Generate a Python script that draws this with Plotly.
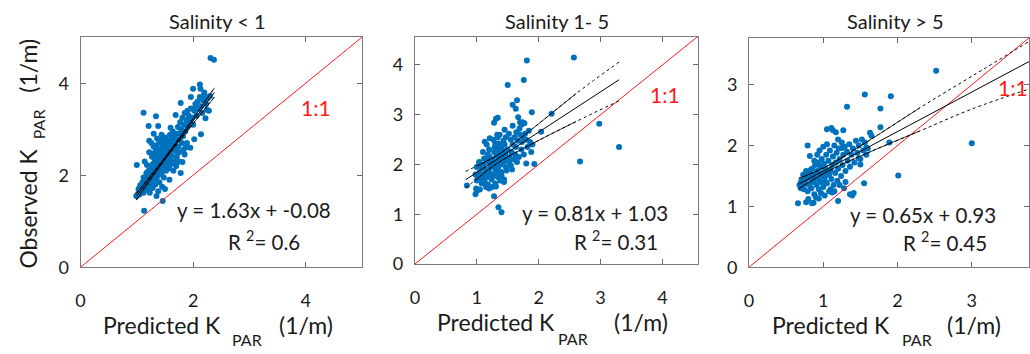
import plotly.graph_objects as go

W, H = 1030, 354
FONT = "Lato"
BLUE = "#0072BD"
TXT = "#1a1a1a"

# ---------------- data ----------------
titles = ["Salinity < 1", "Salinity 1- 5", "Salinity > 5"]

p1_points = [
    (2.31, 4.55), (2.37, 4.51), (2.12, 3.97), (2.13, 3.88), (1.12, 3.36), (1.34, 3.28), (1.38, 3.07),
    (1.21, 3.07), (1.78, 3.57), (1.96, 3.70), (1.69, 3.31), (2.22, 3.24), (2.22, 3.70), (2.19, 3.74),
    (2.14, 2.89), (2.02, 2.78), (1.87, 2.61), (1.00, 2.22), (1.13, 1.23), (1.46, 1.44), (0.99, 1.55),
    (1.22, 2.75), (1.30, 2.90), (1.81, 2.29), (1.60, 3.03), (2.05, 3.49), (2.25, 3.42), (1.90, 3.40),
    (2.00, 3.88),
    (1.00, 1.55), (1.02, 1.60), (1.05, 1.58), (1.08, 1.65), (1.03, 1.70), (1.10, 1.72), (1.06, 1.78),
    (1.12, 1.62), (1.15, 1.70), (1.13, 1.80), (1.10, 1.85), (1.18, 1.75), (1.16, 1.88), (1.20, 1.68),
    (1.22, 1.80), (1.19, 1.95), (1.25, 1.90), (1.23, 1.62), (1.28, 1.72), (1.27, 1.85), (1.30, 1.95),
    (1.24, 2.02), (1.21, 2.10), (1.18, 2.22), (1.14, 2.30), (1.26, 2.15), (1.31, 2.05), (1.33, 1.80),
    (1.35, 1.92), (1.36, 2.10), (1.29, 2.25), (1.32, 2.35), (1.27, 2.40), (1.22, 2.50), (1.38, 2.00),
    (1.40, 1.85), (1.42, 2.15), (1.39, 2.28), (1.37, 2.45), (1.34, 2.55), (1.30, 2.62), (1.26, 2.70),
    (1.44, 2.05), (1.46, 2.30), (1.43, 2.40), (1.41, 2.55), (1.45, 2.62), (1.40, 2.72), (1.36, 2.80),
    (1.48, 2.20), (1.50, 2.40), (1.47, 2.50), (1.52, 2.32), (1.49, 2.68), (1.46, 2.78), (1.44, 2.88),
    (1.53, 2.55), (1.55, 2.45), (1.54, 2.70), (1.51, 2.82), (1.57, 2.38), (1.58, 2.60), (1.56, 2.75),
    (1.60, 2.50), (1.59, 2.88), (1.62, 2.42), (1.61, 2.68), (1.63, 2.80), (1.65, 2.58), (1.64, 2.95),
    (1.66, 2.30), (1.68, 2.65), (1.67, 2.85), (1.70, 2.52), (1.69, 2.75), (1.72, 2.90), (1.71, 2.40),
    (1.74, 2.62), (1.73, 3.05), (1.76, 2.78), (1.75, 2.50), (1.78, 2.92), (1.77, 3.15), (1.80, 2.70),
    (1.79, 3.00), (1.82, 2.85), (1.81, 3.25), (1.84, 3.10), (1.83, 2.55), (1.86, 2.95), (1.88, 3.20),
    (1.85, 3.35), (1.90, 3.05), (1.92, 3.30), (1.89, 2.70), (1.94, 3.15), (1.96, 3.45), (1.98, 3.25),
    (2.00, 3.10), (2.02, 3.40), (2.04, 3.55), (2.06, 3.30), (2.08, 3.60), (2.10, 3.45), (2.12, 3.70),
    (2.14, 3.50), (2.16, 3.35), (2.18, 3.62), (2.20, 3.80), (2.23, 3.55), (2.26, 3.68), (2.28, 3.40),
    (2.30, 3.72), (1.48, 1.95), (1.52, 2.10), (1.55, 2.20), (1.58, 2.15), (1.62, 2.25), (1.45, 1.75),
    (1.50, 1.70), (1.38, 1.65), (1.35, 1.55), (1.58, 1.90), (1.65, 2.10), (1.70, 2.20), (1.75, 2.30),
    (1.85, 2.45), (1.95, 2.60), (1.78, 2.05), (1.38, 2.18), (1.42, 2.25), (1.45, 2.42), (1.48, 2.35),
    (1.51, 2.48), (1.53, 2.22), (1.56, 2.52), (1.59, 2.30), (1.62, 2.55), (1.47, 2.58), (1.44, 2.50),
    (1.36, 2.35), (1.33, 2.20), (1.30, 2.12), (1.28, 2.00), (1.35, 2.65), (1.31, 2.48), (1.52, 2.62),
    (1.57, 2.65), (1.60, 2.72), (1.66, 2.72), (1.55, 2.35), (1.50, 2.25), (1.43, 2.10), (1.25, 2.20),
    (1.20, 1.98), (1.17, 2.05), (1.12, 1.95),
]

p2_points = [
    (2.57, 4.15), (1.81, 4.09), (1.76, 3.70), (1.50, 3.60), (1.65, 3.29), (1.58, 3.20), (1.63, 3.12),
    (1.89, 3.05), (1.31, 2.92), (1.34, 2.94), (1.28, 2.84), (2.21, 3.02), (2.98, 2.82), (3.30, 2.35),
    (2.67, 2.06), (1.93, 2.01), (1.80, 2.02), (2.04, 2.66), (1.67, 2.95), (1.74, 2.85), (1.77, 2.83),
    (1.33, 2.60), (1.21, 2.53), (1.13, 2.46), (1.35, 1.14), (1.40, 1.04), (0.84, 1.58), (0.98, 1.40),
    (1.28, 1.36), (0.99, 1.52), (1.00, 1.47), (1.07, 1.72), (1.04, 2.04), (1.44, 1.65), (1.31, 1.56),
    (1.20, 1.52),
    (1.02, 1.75), (1.05, 1.85), (1.08, 1.95), (1.04, 2.05), (1.10, 1.70), (1.12, 1.80), (1.14, 1.90),
    (1.11, 2.00), (1.15, 2.10), (1.13, 1.65), (1.17, 1.75), (1.18, 1.60), (1.20, 1.85), (1.22, 1.95),
    (1.19, 2.05), (1.21, 2.15), (1.24, 1.70), (1.25, 1.80), (1.27, 2.00), (1.26, 2.10), (1.28, 2.25),
    (1.30, 1.90), (1.29, 2.35), (1.31, 2.05), (1.32, 2.18), (1.33, 2.30), (1.34, 1.75), (1.35, 1.95),
    (1.36, 2.10), (1.37, 2.22), (1.38, 2.38), (1.39, 2.00), (1.40, 1.85), (1.41, 2.15), (1.42, 2.28),
    (1.43, 2.05), (1.44, 1.70), (1.45, 2.40), (1.46, 2.20), (1.47, 1.95), (1.48, 2.10), (1.50, 2.30),
    (1.52, 2.05), (1.53, 2.15), (1.55, 2.50), (1.56, 2.25), (1.57, 1.90), (1.58, 2.40), (1.60, 2.10),
    (1.61, 2.55), (1.62, 2.20), (1.63, 2.35), (1.65, 2.05), (1.66, 2.48), (1.68, 2.15), (1.70, 2.60),
    (1.72, 2.30), (1.73, 2.45), (1.75, 2.55), (1.76, 2.20), (1.78, 2.62), (1.80, 2.50), (1.82, 2.35),
    (1.84, 2.68), (1.86, 2.45), (1.88, 2.25), (1.90, 2.40), (1.30, 2.42), (1.34, 2.55), (1.27, 2.50),
    (1.20, 2.30), (1.16, 2.40), (1.10, 2.25), (1.37, 2.60), (1.45, 2.70), (1.52, 2.62), (1.25, 1.55),
    (1.30, 1.62), (1.38, 1.68), (1.15, 1.55), (1.08, 1.62), (1.00, 1.68), (1.05, 1.50), (0.98, 1.80),
    (1.00, 1.95), (1.43, 2.48), (1.47, 2.55), (1.64, 2.65), (1.69, 2.72), (1.58, 2.78), (1.70, 2.85),
    (1.72, 2.80), (1.74, 2.58), (1.12, 2.12), (1.18, 2.20), (1.23, 2.05), (1.40, 1.78), (1.48, 1.88),
    (1.55, 1.98), (1.35, 2.42), (1.40, 2.32), (1.32, 1.85), (1.28, 1.78),
]

p3_points = [
    (2.52, 3.23), (1.56, 2.84), (1.91, 2.81), (1.32, 2.64), (1.77, 2.61), (3.00, 2.04), (2.01, 1.51),
    (1.55, 1.38), (1.77, 2.30), (1.11, 2.29), (1.13, 2.25), (1.17, 2.22), (1.05, 2.27), (1.27, 2.25),
    (0.79, 2.00), (0.82, 1.83), (0.66, 1.05), (0.77, 1.07), (0.85, 1.05), (0.87, 1.06), (0.94, 1.13),
    (1.20, 1.09), (1.36, 1.20), (1.39, 1.18), (1.41, 1.22), (1.12, 1.23), (1.63, 2.21), (1.65, 2.16),
    (1.89, 2.05), (1.58, 1.97), (1.50, 1.69), (1.48, 1.79), (1.20, 2.10), (1.25, 1.96),
    (0.68, 1.35), (0.70, 1.30), (0.72, 1.42), (0.74, 1.28), (0.75, 1.50), (0.76, 1.38), (0.78, 1.45),
    (0.79, 1.25), (0.80, 1.55), (0.81, 1.35), (0.82, 1.48), (0.84, 1.30), (0.85, 1.62), (0.86, 1.40),
    (0.87, 1.52), (0.88, 1.20), (0.89, 1.68), (0.90, 1.45), (0.91, 1.35), (0.92, 1.58), (0.93, 1.72),
    (0.94, 1.28), (0.95, 1.50), (0.96, 1.65), (0.97, 1.40), (0.98, 1.78), (0.99, 1.55), (1.00, 1.32),
    (1.01, 1.70), (1.02, 1.48), (1.03, 1.62), (1.04, 1.85), (1.05, 1.38), (1.06, 1.55), (1.07, 1.75),
    (1.08, 1.25), (1.09, 1.92), (1.10, 1.60), (1.11, 1.45), (1.12, 1.68), (1.13, 1.82), (1.14, 1.35),
    (1.15, 2.00), (1.16, 1.55), (1.17, 1.72), (1.18, 1.88), (1.19, 1.42), (1.20, 1.62), (1.21, 1.95),
    (1.22, 1.78), (1.24, 1.50), (1.25, 2.05), (1.26, 1.68), (1.27, 1.85), (1.28, 1.30), (1.29, 1.98),
    (1.30, 1.58), (1.32, 1.90), (1.33, 1.75), (1.35, 2.02), (1.36, 1.65), (1.38, 1.85), (1.40, 1.95),
    (1.42, 1.72), (1.44, 2.08), (1.46, 1.88), (1.48, 2.00), (1.50, 1.78), (1.52, 2.10), (1.54, 1.92),
    (1.56, 2.05), (1.58, 1.85), (1.60, 1.95), (0.83, 1.60), (0.77, 1.58), (0.73, 1.52), (0.88, 1.75),
    (0.92, 1.85), (0.95, 1.92), (1.00, 1.98), (1.05, 2.02), (0.97, 1.22), (1.02, 1.18), (0.90, 1.15),
    (0.80, 1.12), (1.10, 1.28), (1.15, 1.25), (1.22, 1.35), (1.30, 1.40), (0.86, 1.48), (0.94, 1.45),
    (1.03, 1.40), (1.08, 1.52), (0.70, 1.40), (0.72, 1.33),
]

# regression fits (slope, intercept, R^2) and fitted x-extent
slopes = [1.63, 0.81, 0.65]
intercepts = [-0.08, 1.03, 0.93]
r2_text = ["0.6", "0.31", "0.45"]
fit_x_ext = [[1.00, 2.38], [0.82, 3.30], [0.67, 4.00]]

# confidence bounds
bound_x = [[0.99, 1.50, 2.00, 2.38],
           [0.82, 1.00, 1.35, 1.90, 2.60, 3.30],
           [0.67, 1.05, 1.60, 2.30, 3.00, 3.77]]
bound_up = [[1.60, 2.39, 3.23, 3.90],
            [1.86, 1.97, 2.20, 2.72, 3.42, 4.06],
            [1.46, 1.66, 2.07, 2.62, 3.14, 3.71]]
bound_lo = [[1.46, 2.34, 3.12, 3.70],
            [1.53, 1.71, 2.04, 2.42, 2.86, 3.28],
            [1.29, 1.57, 1.88, 2.24, 2.60, 2.93]]
bound_dense = [(0, 3), (1, 4), (0, 3)]   # index span drawn as dense (solid-looking)

axis_max = [5.0, 4.57, 3.77]
tick_step = [2, 1, 1]

# ---------------- layout geometry (pixels) ----------------
boxes = [  # left, right, top, bottom
    (76, 359, 38.3, 275),
    (412.3, 696.7, 37.7, 271.7),
    (748.3, 1030, 39, 275),
]


def px(x):
    return x / W


def py(y):
    return 1 - y / H


fig = go.Figure()
layout = dict(width=W, height=H, margin=dict(l=0, r=0, t=0, b=0),
              paper_bgcolor="white", plot_bgcolor="white", showlegend=False,
              font=dict(family=FONT, color=TXT))

for i in range(3):
    sx = "" if i == 0 else str(i + 1)
    xa, ya = "x" + sx, "y" + sx
    L, R, T, B = boxes[i]
    common = dict(range=[0, axis_max[i]], tick0=0, dtick=tick_step[i], ticks="inside",
                  ticklen=5, tickwidth=1, tickcolor="#6a6a6a", showline=True,
                  linecolor="#7a7a7a", linewidth=1, mirror="ticks", showgrid=False,
                  zeroline=False, fixedrange=True,
                  tickfont=dict(family=FONT, size=18, color=TXT))
    layout["xaxis" + sx] = dict(common, domain=[px(L), px(R)], anchor=ya, ticklabelstandoff=17)
    layout["yaxis" + sx] = dict(common, domain=[py(B), py(T)], anchor=xa, ticklabelstandoff=7)

    pts = [p1_points, p2_points, p3_points][i]
    fig.add_trace(go.Scatter(x=[p[0] for p in pts], y=[p[1] for p in pts], mode="markers",
                             marker=dict(color=BLUE, size=6, line=dict(width=0)),
                             xaxis=xa, yaxis=ya))
    # 1:1 line
    fig.add_trace(go.Scatter(x=[0, axis_max[i] * 1.1], y=[0, axis_max[i] * 1.1], mode="lines",
                             line=dict(color="#ff1a1a", width=1), xaxis=xa, yaxis=ya))
    # confidence bounds
    a, b = bound_dense[i]
    for arr in (bound_up[i], bound_lo[i]):
        fig.add_trace(go.Scatter(x=bound_x[i], y=arr, mode="lines",
                                 line=dict(color="black", width=1, dash="dot", shape="spline"),
                                 xaxis=xa, yaxis=ya))
        fig.add_trace(go.Scatter(x=bound_x[i][a:b + 1], y=arr[a:b + 1], mode="lines",
                                 line=dict(color="black", width=0.8, shape="spline"),
                                 xaxis=xa, yaxis=ya))
    # fit line
    fx = fit_x_ext[i]
    fig.add_trace(go.Scatter(x=fx, y=[slopes[i] * v + intercepts[i] for v in fx], mode="lines",
                             line=dict(color="black", width=1), xaxis=xa, yaxis=ya))

ann = []


def text(x, y, s, size, color=TXT, angle=0):
    ann.append(dict(x=px(x), y=py(y), xref="paper", yref="paper", text=s, showarrow=False,
                    xanchor="center", yanchor="middle", textangle=angle,
                    font=dict(family=FONT, size=size, color=color)))


# titles
for cx, t in zip([213.5, 555, 895.8], titles):
    text(cx, 21.7, t, 20)

# equations
eq_pos = [((250.4, 216.2), (260.3, 247.2)),
          ((593.8, 218.9), (615, 247.2)),
          ((923, 221.2), (946, 248.9))]
for i in range(3):
    eq = "y = %.2fx + %.2f" % (slopes[i], intercepts[i])
    (x1, y1), (x2, y2) = eq_pos[i]
    text(x1, y1, eq, 20.5)
    text(x2, y2, "R <sup>2</sup>= " + r2_text[i], 20.5)

# 1:1 labels
for cx, cy in [(313.3, 110.5), (663.7, 97.5), (1014, 90.5)]:
    text(cx, cy, "1:1", 21, color="#ff1a1a")

# x-axis labels
xl = [((157.5, 334.0), (243.8, 349.5), (303, 334.0)),
      ((494.2, 331.0), (571.5, 348.5), (639.8, 331.0)),
      ((830.8, 334.0), (917.4, 349.8), (974.8, 334.0))]
for (m, s, u) in xl:
    text(m[0], m[1], "Predicted K", 23)
    text(s[0], s[1], "PAR", 16)
    text(u[0], u[1], "(1/m)", 23)

# y-axis label (first panel only)
text(22.8, 215, "Observed K", 23, angle=-90)
text(34, 128, "PAR", 16, angle=-90)
text(22.8, 68, "(1/m)", 23, angle=-90)

layout["annotations"] = ann
fig.update_layout(**layout)
fig.write_html("out.html")
